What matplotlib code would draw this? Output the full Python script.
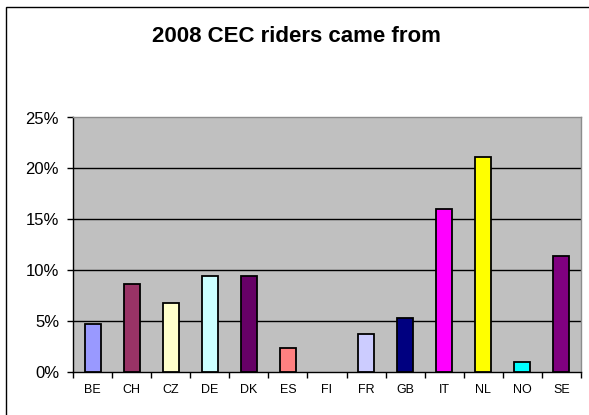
import numpy as np
import matplotlib
matplotlib.use("Agg")
from matplotlib import pyplot as plt
from matplotlib.patches import Rectangle
from matplotlib.ticker import PercentFormatter

# dados
paises = ["BE", "CH", "CZ", "DE", "DK", "ES", "FI", "FR", "GB", "IT", "NL", "NO", "SE"]
percentagens = [4.7, 8.6, 6.7, 9.4, 9.4, 2.3, 0.0, 3.7, 5.3, 16.0, 21.1, 0.9, 11.4]
cores = ["#9999FF", "#993366", "#FFFFCC", "#CCFFFF", "#660066", "#FF8080", "#FFFFFF",
         "#CCCCFF", "#000080", "#FF00FF", "#FFFF00", "#00FFFF", "#800080"]
titulo = "2008 CEC riders came from"

plt.rcParams['font.family'] = ['Liberation Sans', 'DejaVu Sans']

fig = plt.figure(figsize=(5.89, 4.15), dpi=100)
W, H = 589, 415
ax = fig.add_axes([73 / W, (H - 371.5) / H, (581 - 73) / W, (371.5 - 117.5) / H])
ax.set_facecolor("#C0C0C0")

x = np.arange(len(paises))
for xi, v, c in zip(x, percentagens, cores):
    if v > 0:
        ax.bar(xi, v, width=0.41, color=c, edgecolor="black", linewidth=1.3, zorder=3)

ax.set_xlim(-0.5, len(paises) - 0.5)
ax.set_ylim(0, 25)
ax.set_yticks([0, 5, 10, 15, 20, 25])
ax.yaxis.set_major_formatter(PercentFormatter(decimals=0))
for g in [5, 10, 15, 20]:
    ax.axhline(g, color="black", linewidth=1.0, zorder=1)

ax.set_xticks(x)
ax.set_xticklabels(paises, fontsize=9)
ax.set_xticks(np.arange(-0.5, len(paises)), minor=True)
ax.tick_params(axis="x", which="major", length=0, pad=9)
ax.tick_params(axis="x", which="minor", length=4, width=1, direction="out")
ax.tick_params(axis="y", length=4, width=1, direction="out", labelsize=12, pad=6)

for s in ["left", "bottom"]:
    ax.spines[s].set_color("black")
    ax.spines[s].set_linewidth(1.0)
for s in ["top", "right"]:
    ax.spines[s].set_color("#8C8C8C")
    ax.spines[s].set_linewidth(1.0)

fig.text(296 / W, 1 - 37 / H, titulo, ha="center", va="center",
         fontsize=16, fontweight="bold")

# borda da area do grafico
fig.patches.append(Rectangle((6 / W, -0.1), 1.1, 1 - 7 / H + 0.1,
                             transform=fig.transFigure, fill=False,
                             edgecolor="black", linewidth=1.0))

fig.savefig("out.png", dpi=100)
